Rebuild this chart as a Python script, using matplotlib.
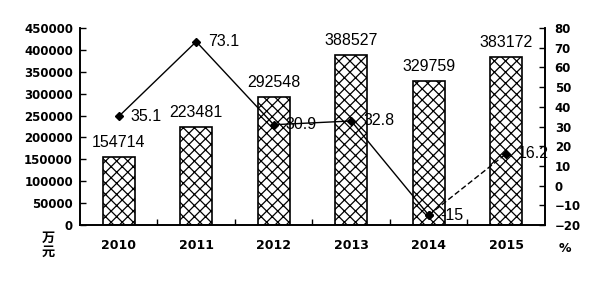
import matplotlib
matplotlib.use("Agg")
import matplotlib.pyplot as plt
import numpy as np

plt.rcParams['font.family'] = ['DejaVu Sans', 'Noto Sans CJK SC']
plt.rcParams['hatch.linewidth'] = 0.9

years = ["2010", "2011", "2012", "2013", "2014", "2015"]
amount = [154714, 223481, 292548, 388527, 329759, 383172]   # 万元
growth = [35.1, 73.1, 30.9, 32.8, -15, 16.2]                # %
growth_labels = ["35.1", "73.1", "30.9", "32.8", "-15", "16.2"]

x = np.arange(len(years))

fig = plt.figure(figsize=(6, 2.83), dpi=100)
ax = fig.add_axes([0.1333, 0.205, 0.775, 0.696])
ax2 = ax.twinx()

ax.bar(x, amount, width=0.41, color="white", edgecolor="black",
       linewidth=1.2, hatch="xxx", zorder=2)
for xi, v in zip(x, amount):
    ax.annotate(str(v), (xi, v), xytext=(0, 5), textcoords="offset points",
                ha="center", va="bottom", fontsize=11.5,
                family="Liberation Sans", zorder=5)

ax.set_xlim(-0.5, len(years) - 0.5)
ax.set_ylim(0, 450000)
ax.set_yticks(np.arange(0, 450001, 50000))
ax.set_xticks(x)
ax.set_xticklabels(years, fontsize=9, fontweight="bold")
ax.set_xticks(np.arange(0.5, len(years) - 1, 1), minor=True)
ax.tick_params(axis="x", which="major", length=0, pad=10)
ax.tick_params(axis="x", which="minor", direction="in", length=4, width=1)
ax.tick_params(axis="y", direction="in", length=4, width=1, labelsize=8.5, pad=5)
for lab in ax.get_yticklabels():
    lab.set_fontweight("bold")

# solid part, then dashed last segment
ax2.plot(x[:5], growth[:5], color="black", lw=1, marker="D", ms=4.5, zorder=4)
ax2.plot(x[4:], growth[4:], color="black", lw=1, ls=(0, (4, 2)),
         marker="D", ms=4.5, zorder=4)
for xi, v, t in zip(x, growth, growth_labels):
    ax2.annotate(t, (xi, v), xytext=(8.5, 0), textcoords="offset points",
                 ha="left", va="center", fontsize=11.5,
                 family="Liberation Sans", zorder=5)

ax2.set_ylim(-20, 80)
ax2.set_yticks(np.arange(-20, 81, 10))
ax2.tick_params(axis="y", direction="in", length=4, width=1, labelsize=8.5, pad=7)
for lab in ax2.get_yticklabels():
    lab.set_fontweight("bold")

ax.set_zorder(ax2.get_zorder() - 1)
ax.patch.set_visible(False)

for a in (ax, ax2):
    a.spines["top"].set_visible(False)
    for s in ("left", "right", "bottom"):
        a.spines[s].set_linewidth(1.2)

fig.text(0.08, 0.185, "万\n元", ha="center", va="top", fontsize=9.5,
         fontweight="bold", family="Noto Sans CJK SC", linespacing=1.05)
fig.text(0.942, 0.145, "%", ha="center", va="top", fontsize=9,
         fontweight="bold")

fig.savefig("out.png", dpi=100)
